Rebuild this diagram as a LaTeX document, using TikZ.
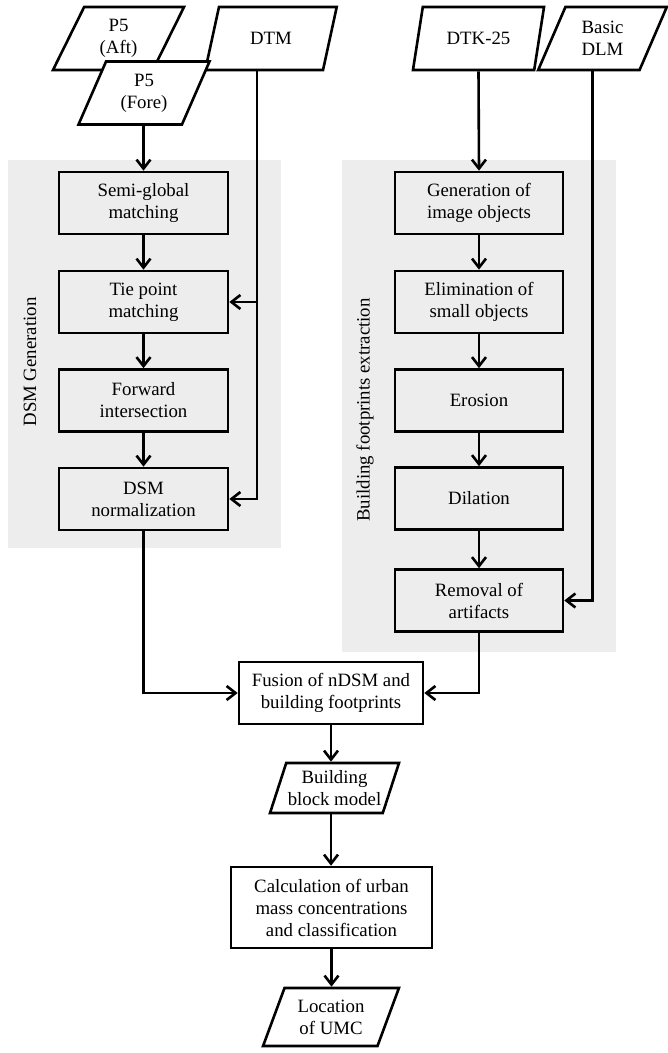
\documentclass[tikz,border=0pt]{standalone}
\usepackage{fontspec}
\setmainfont{Liberation Serif}
\usetikzlibrary{arrows.meta,shapes.geometric}
\definecolor{panelgray}{HTML}{EDEDED}
\begin{document}
\begin{tikzpicture}[x=1bp,y=-1bp,
  font=\fontsize{18.8bp}{22bp}\selectfont,
  lw/.style={line width=2.6bp},
  panel/.style={fill=panelgray, draw=none, inner sep=0pt},
  stepbox/.style={draw, lw, rectangle, minimum width=169bp, minimum height=62bp, inner sep=0pt, align=center},
  io/.style={draw, lw, fill=white, trapezium, trapezium left angle=66, trapezium right angle=114,
    trapezium stretches=true, minimum width=132bp, minimum height=63bp, inner sep=0pt, align=center},
  arr/.style={lw, -{Straight Barb[length=9bp,width=14bp,line width=2.6bp]}}
]
\useasboundingbox (0,0) rectangle (668,1053);

% grey background panels
\node[panel, minimum width=273bp, minimum height=388bp] (dsmpanel) at (144.5,354) {};
\node[panel, minimum width=274bp, minimum height=492bp] (bfpanel) at (479,406) {};
\node[rotate=90] (dsmlabel) at (30,362) {DSM Generation};
\node[rotate=90] (bflabel) at (365,410) {Building footprints extraction};

% input data
\node[io] (aft) at (118.5,38.5) {P5\\(Aft)};
\node[io] (dtm) at (271,38.5) {DTM};
\node[io] (fore) at (144,93) {P5\\(Fore)};
\node[io] (dtk) at (478.5,38.5) {DTK-25};
\node[io, minimum width=129bp] (dlm) at (602.5,38.5) {Basic\\DLM};

% DSM generation chain
\node[stepbox] (sgm) at (143.5,203) {Semi-global\\matching};
\node[stepbox] (tie) at (143.5,302) {Tie point\\matching};
\node[stepbox] (fwd) at (143.5,400.5) {Forward\\intersection};
\node[stepbox] (norm) at (143.5,499) {DSM\\normalization};

% footprint extraction chain
\node[stepbox, minimum width=168bp] (gen) at (479,203) {Generation of\\image objects};
\node[stepbox, minimum width=168bp] (elim) at (479,302) {Elimination of\\small objects};
\node[stepbox, minimum width=168bp] (eros) at (479,400.5) {Erosion};
\node[stepbox, minimum width=168bp] (dil) at (479,498.5) {Dilation};
\node[stepbox, minimum width=168bp] (rem) at (479,600.5) {Removal of\\artifacts};

% fusion and results
\node[stepbox, fill=white, minimum width=184bp] (fus) at (331,693) {Fusion of nDSM and\\building footprints};
\node[io, minimum width=129bp, minimum height=50bp] (block) at (334.5,788) {Building\\block model};
\node[stepbox, fill=white, minimum width=201bp, minimum height=81bp] (calc) at (331.5,907.5) {Calculation of urban\\mass concentrations\\and classification};
\node[io, minimum width=136bp, minimum height=58bp] (umc) at (331,1017) {Location\\of UMC};

% connectors
\draw[arr] (fore.south -| sgm.north) -- (sgm.north);
\draw[arr] (sgm) -- (tie);
\draw[arr] (tie) -- (fwd);
\draw[arr] (fwd) -- (norm);
\draw[arr] ([xshift=-14bp]dtm.south) |- (norm.east);
\draw[arr] ([xshift=29bp]tie.east) -- (tie.east);

\draw[arr] (dtk.south) -- (gen.north);
\draw[arr] (gen) -- (elim);
\draw[arr] (elim) -- (eros);
\draw[arr] (eros) -- (dil);
\draw[arr] (dil) -- (rem);
\draw[arr] ([xshift=-10bp]dlm.south) |- (rem.east);

\draw[arr] (norm.south) |- (fus.west);
\draw[arr] (rem.south) |- (fus.east);
\draw[arr] (fus.south) -- (fus.south |- block.north);
\draw[arr] (fus.south |- block.south) -- (fus.south |- calc.north);
\draw[arr] (calc.south) -- (calc.south |- umc.north);
\end{tikzpicture}
\end{document}
